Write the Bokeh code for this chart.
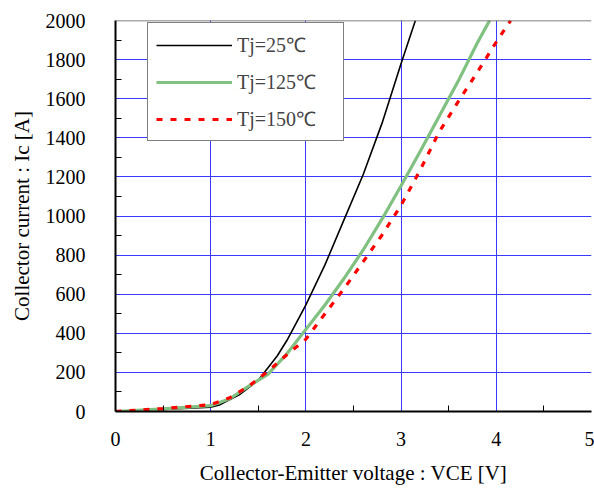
from bokeh.plotting import figure
from bokeh.models import Range1d, FixedTicker, Legend, LegendItem, Span
from bokeh.embed import file_html
from bokeh.resources import INLINE

# Tj = 25 C
v25 = [0, 0.5, 1.0, 1.1, 1.3, 1.5, 1.7, 1.8, 2.0, 2.2, 2.4, 2.6, 2.8, 3.0, 3.15]
i25 = [0, 10, 22, 35, 85, 160, 285, 363, 545, 750, 980, 1210, 1475, 1780, 2000]

# Tj = 125 C
v125 = [0, 0.5, 1.0, 1.2, 1.4, 1.6, 1.8, 2.0, 2.2, 2.4, 2.6, 2.8, 3.0, 3.2, 3.4, 3.6, 3.8, 3.93]
i125 = [0, 13, 30, 65, 130, 190, 295, 420, 545, 680, 825, 985, 1155, 1330, 1510, 1690, 1885, 2000]

# Tj = 150 C
v150 = [0, 0.5, 1.0, 1.2, 1.4, 1.6, 1.8, 2.0, 2.2, 2.4, 2.6, 2.8, 3.0, 3.2, 3.4, 3.6, 3.8, 4.0, 4.15]
i150 = [0, 15, 35, 70, 130, 205, 290, 370, 500, 628, 765, 903, 1055, 1235, 1430, 1585, 1735, 1890, 2000]

labels = ["Tj=25\u2103", "Tj=125\u2103", "Tj=150\u2103"]

x_ticks = [0, 1, 2, 3, 4, 5]
x_minor = [0.5, 1.5, 2.5, 3.5, 4.5]
y_ticks = [0, 200, 400, 600, 800, 1000, 1200, 1400, 1600, 1800, 2000]
y_minor = [100, 300, 500, 700, 900, 1100, 1300, 1500, 1700, 1900]

FONT = "Liberation Serif"
GRID = "#3a3aff"

p = figure(width=594, height=490, output_backend="svg", toolbar_location=None,
           x_range=Range1d(0, 5), y_range=Range1d(0, 2000),
           min_border_left=115, min_border_right=3, min_border_top=20, min_border_bottom=79)
p.outline_line_color = None

p.xaxis.ticker = FixedTicker(ticks=x_ticks, minor_ticks=x_minor)
p.yaxis.ticker = FixedTicker(ticks=y_ticks, minor_ticks=y_minor)

for ax in (p.xaxis, p.yaxis):
    ax.axis_line_color = "black"
    ax.axis_line_width = 2
    ax.major_tick_in = 0
    ax.major_tick_out = 0
    ax.minor_tick_in = 6
    ax.minor_tick_out = 0
    ax.minor_tick_line_color = "black"
    ax.minor_tick_line_width = 1
    ax.major_label_text_font = FONT
    ax.major_label_text_font_size = "20px"
    ax.major_label_text_color = "black"
    ax.axis_label_text_font = FONT
    ax.axis_label_text_font_size = "21px"
    ax.axis_label_text_font_style = "normal"
    ax.axis_label_text_color = "black"

p.xaxis.axis_label = "Collector-Emitter voltage : VCE [V]"
p.yaxis.axis_label = "Collector current : Ic [A]"
p.xaxis.major_label_standoff = 20
p.xaxis.axis_label_standoff = 12
p.yaxis.major_label_standoff = 30
p.yaxis.axis_label_standoff = 9

p.xgrid.grid_line_color = GRID
p.ygrid.grid_line_color = GRID
p.xgrid.grid_line_width = 1
p.ygrid.grid_line_width = 1

p.add_layout(Span(location=2000, dimension="width", line_color="#555555", line_width=1.5))

r25 = p.line(v25, i25, line_color="black", line_width=1.6)
r125 = p.line(v125, i125, line_color="#80c080", line_width=3.2)
r150 = p.line(v150, i150, line_color="#ff0000", line_width=3.2, line_dash="6 8")

legend = Legend(items=[LegendItem(label=labels[0], renderers=[r25]),
                       LegendItem(label=labels[1], renderers=[r125]),
                       LegendItem(label=labels[2], renderers=[r150])],
                location=(32, 270), orientation="vertical",
                glyph_width=76, glyph_height=18, label_height=18, label_width=98,
                label_standoff=5, spacing=10, padding=8, margin=0,
                label_text_font=FONT, label_text_font_size="20px",
                border_line_color="black", border_line_width=1,
                background_fill_color="white", background_fill_alpha=1.0)
p.add_layout(legend, "center")

open("out.html", "w").write(file_html(p, INLINE))
